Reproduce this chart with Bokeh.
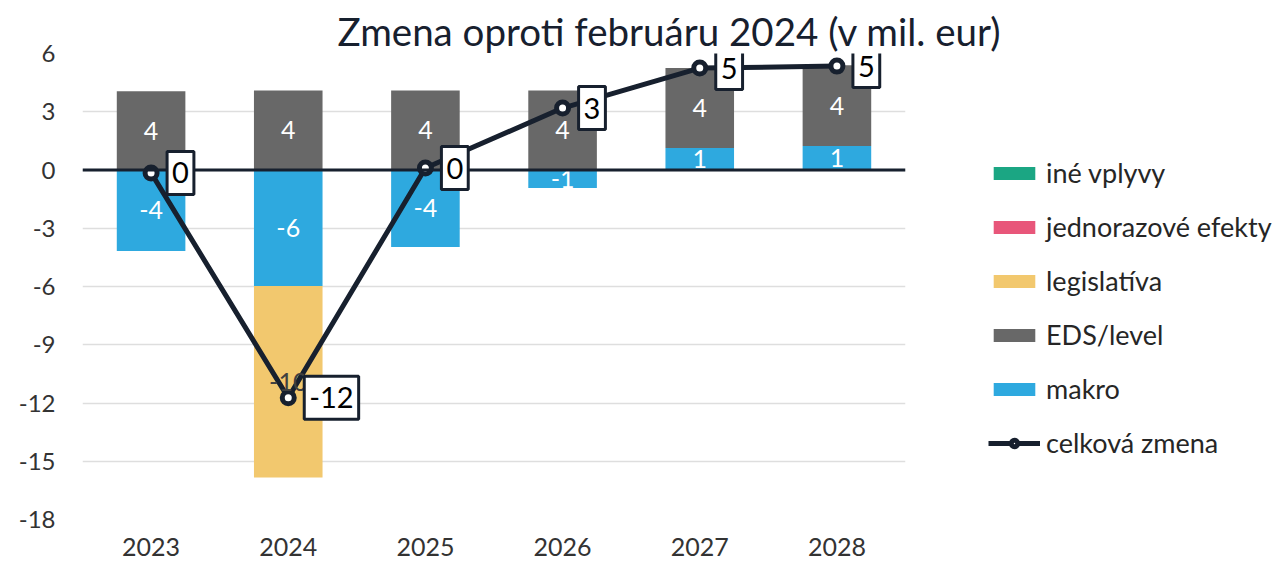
import numpy as np
from bokeh.plotting import figure
from bokeh.core.properties import value
from bokeh.models import (ColumnDataSource, Range1d, FactorRange, Span, LabelSet, Label,
                          Legend, LegendItem, FixedTicker, CustomJSTickFormatter)
from bokeh.embed import file_html
from bokeh.resources import INLINE

years = ["2023", "2024", "2025", "2026", "2027", "2028"]
makro = [-4.17, -5.97, -3.96, -0.93, 1.13, 1.23]
eds_level = [4.06, 4.10, 4.10, 4.10, 4.12, 4.17]
legislativa = [0.0, -9.87, 0.0, 0.0, 0.0, 0.0]
jednorazove = [0.0, 0.0, 0.0, 0.0, 0.0, 0.0]
ine_vplyvy = [0.0, 0.0, 0.0, 0.0, 0.0, 0.0]
celkova = [-0.15, -11.73, 0.10, 3.19, 5.25, 5.35]
y_ticks = [-18, -15, -12, -9, -6, -3, 0, 3, 6]

FONT = "Lato"
DARK = "#17202e"

series = [
    ("makro", makro, "#2ea9df", "white"),
    ("EDS/level", eds_level, "#686868", "white"),
    ("legislatíva", legislativa, "#f2c86e", "#404040"),
    ("jednorazové efekty", jednorazove, "#e8567a", "white"),
    ("iné vplyvy", ine_vplyvy, "#1ba683", "white"),
]

p = figure(frame_width=823, frame_height=466, x_range=FactorRange(*years, range_padding=0),
           y_range=Range1d(-18, 6), output_backend="svg", toolbar_location=None,
           min_border_left=82, min_border_right=0, min_border_top=53, min_border_bottom=48)
p.outline_line_color = None
p.background_fill_color = "white"
p.border_fill_color = "white"

pos = np.zeros(len(years))
neg = np.zeros(len(years))
renderers = {}
lab_x, lab_y, lab_t, lab_c = [], [], [], []
for name, vals, color, tcol in series:
    v = np.array(vals, dtype=float)
    bottom = np.where(v >= 0, pos, neg)
    top = bottom + v
    pos = np.where(v >= 0, top, pos)
    neg = np.where(v < 0, top, neg)
    src = ColumnDataSource(dict(x=years, top=top, bottom=bottom))
    r = p.vbar(x="x", top="top", bottom="bottom", width=0.5, source=src,
               fill_color=color, line_color=None)
    renderers[name] = r
    for i, val in enumerate(v):
        if abs(val) >= 0.5:
            lab_x.append(years[i])
            lab_y.append((bottom[i] + top[i]) / 2)
            lab_t.append(str(int(round(val))))
            lab_c.append(tcol)

bar_labels = LabelSet(x="x", y="y", text="t", text_color="c",
                      source=ColumnDataSource(dict(x=lab_x, y=lab_y, t=lab_t, c=lab_c)),
                      text_align="center", text_baseline="middle",
                      text_font=value(FONT), text_font_size="25px")
p.add_layout(bar_labels)

zero = Span(location=0, dimension="width", line_color=DARK, line_width=3)
p.add_layout(zero)

tsrc = ColumnDataSource(dict(x=years, y=celkova))
lr = p.line(x="x", y="y", source=tsrc, line_color=DARK, line_width=5)
mr = p.scatter(x="x", y="y", source=tsrc, size=12, marker="circle",
               fill_color="white", line_color=DARK, line_width=5)
for i, val in enumerate(celkova):
    p.add_layout(Label(x=i + 0.5, y=val, text=str(int(round(val))), x_offset=16,
                       text_align="left", text_baseline="middle", text_color="black",
                       text_font=FONT, text_font_size="29px",
                       background_fill_color="white", border_line_color=DARK,
                       border_line_width=3, padding=(5, 11)))

# axes
fmt = CustomJSTickFormatter(code="return tick.toFixed(0);")
p.yaxis.ticker = FixedTicker(ticks=y_ticks)
p.yaxis.formatter = fmt
p.yaxis.axis_line_color = None
p.yaxis.major_tick_line_color = None
p.yaxis.minor_tick_line_color = None
p.yaxis.major_tick_out = 0
p.yaxis.major_label_standoff = 27
p.yaxis.major_label_text_font = FONT
p.yaxis.major_label_text_font_size = "24px"
p.yaxis.major_label_text_color = "#333333"

p.xaxis.axis_line_color = None
p.xaxis.major_tick_line_color = None
p.xaxis.major_tick_out = 0
p.xaxis.major_label_standoff = 18
p.xaxis.major_label_text_font = FONT
p.xaxis.major_label_text_font_size = "25px"
p.xaxis.major_label_text_color = "#333333"

p.xgrid.grid_line_color = None
p.ygrid.grid_line_color = "#dedede"
p.ygrid.grid_line_width = 1.5
p.ygrid.ticker = FixedTicker(ticks=y_ticks)

p.title.text = "Zmena oproti februáru 2024 (v mil. eur)"
p.title.align = "left"
p.title.offset = 255
p.title.standoff = 0
p.title.text_font = FONT
p.title.text_font_size = "38.5px"
p.title.text_font_style = "normal"
p.title.text_color = DARK

items = [
    LegendItem(label="iné vplyvy", renderers=[renderers["iné vplyvy"]]),
    LegendItem(label="jednorazové efekty", renderers=[renderers["jednorazové efekty"]]),
    LegendItem(label="legislatíva", renderers=[renderers["legislatíva"]]),
    LegendItem(label="EDS/level", renderers=[renderers["EDS/level"]]),
    LegendItem(label="makro", renderers=[renderers["makro"]]),
    LegendItem(label="celková zmena", renderers=[lr, mr]),
]
legend = Legend(items=items, location=(83, 60), glyph_width=52, glyph_height=16,
                label_standoff=6, label_height=32, spacing=21, padding=0, margin=0,
                label_text_font=FONT, label_text_font_size="27px",
                label_text_color="#262626", border_line_color=None,
                background_fill_alpha=0)
p.add_layout(legend, "right")

open("out.html", "w").write(file_html(p, INLINE))
